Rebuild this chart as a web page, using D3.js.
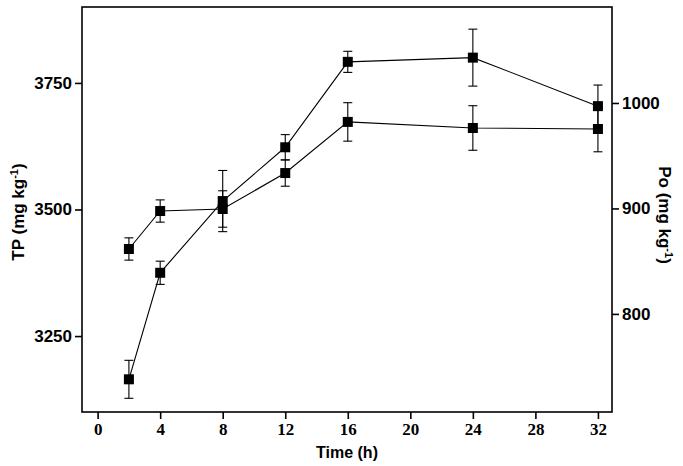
<!DOCTYPE html>
<html><head><meta charset="utf-8">
<script src="https://cdn.jsdelivr.net/npm/d3@7"></script>
<style>body{margin:0;background:#fff}svg{display:block}</style>
</head><body><svg id="c" width="683" height="466"></svg>
<script>
const times = [2, 4, 8, 12, 16, 24, 32];
const tpValues = [3422, 3497, 3501, 3572, 3673, 3661, 3659];
const tpErrors = [22, 22, 36, 26, 38, 44, 45];
const poValues = [738, 839, 907, 958, 1039, 1043, 997];
const poErrors = [18, 11, 29, 12, 10, 27, 20];
const xTicks = [0, 4, 8, 12, 16, 20, 24, 28, 32];
const tpTicks = [3250, 3500, 3750];
const poTicks = [800, 900, 1000];

const svg = d3.select("#c");
const m = {l: 82, r: 71, t: 7, b: 54};
const W = 683, H = 466;
const x = d3.scaleLinear().domain([-1, 32.9]).range([m.l, W - m.r]);
const yL = d3.scaleLinear().domain([3100, 3900]).range([H - m.b, m.t]);
const yR = d3.scaleLinear().domain([707, 1091]).range([H - m.b, m.t]);
const fmt = d3.format("d");

svg.append("rect").attr("x", m.l).attr("y", m.t).attr("width", W - m.l - m.r).attr("height", H - m.t - m.b)
  .attr("fill", "none").attr("stroke", "#000").attr("stroke-width", 1.6);

const gx = svg.append("g").attr("transform", `translate(0,${H - m.b})`)
  .call(d3.axisBottom(x).tickValues(xTicks).tickFormat(fmt).tickSize(7).tickPadding(4));
gx.selectAll("text").attr("font-family", "'Liberation Serif', serif").attr("font-weight", "bold").attr("font-size", 17).attr("fill", "#000");
const gl = svg.append("g").attr("transform", `translate(${m.l},0)`)
  .call(d3.axisLeft(yL).tickValues(tpTicks).tickFormat(fmt).tickSize(7).tickPadding(3));
gl.selectAll("text").attr("font-family", "'Liberation Sans', Arial, sans-serif").attr("font-weight", "bold").attr("font-size", 17).attr("fill", "#000");
const gr = svg.append("g").attr("transform", `translate(${W - m.r},0)`)
  .call(d3.axisRight(yR).tickValues(poTicks).tickFormat(fmt).tickSize(7).tickPadding(3));
gr.selectAll("text").attr("font-family", "'Liberation Sans', Arial, sans-serif").attr("font-weight", "bold").attr("font-size", 17).attr("fill", "#000");
[gx, gl, gr].forEach(g => { g.select(".domain").remove(); g.selectAll("line").attr("stroke", "#000").attr("stroke-width", 1.6); });

function series(vals, errs, y) {
  const data = times.map((t, i) => ({t, v: vals[i], e: errs[i]}));
  svg.append("path").datum(data).attr("fill", "none").attr("stroke", "#000").attr("stroke-width", 1.1)
    .attr("d", d3.line().x(d => x(d.t)).y(d => y(d.v)));
  const g = svg.append("g");
  data.forEach(d => {
    const cx = x(d.t);
    g.append("line").attr("x1", cx).attr("x2", cx).attr("y1", y(d.v - d.e)).attr("y2", y(d.v + d.e)).attr("stroke", "#000").attr("stroke-width", 1.1);
    [d.v - d.e, d.v + d.e].forEach(val => g.append("line").attr("x1", cx - 4.5).attr("x2", cx + 4.5).attr("y1", y(val)).attr("y2", y(val)).attr("stroke", "#000").attr("stroke-width", 1.1));
    g.append("rect").attr("x", cx - 5).attr("y", y(d.v) - 5).attr("width", 10).attr("height", 10).attr("fill", "#000");
  });
}
series(tpValues, tpErrors, yL);
series(poValues, poErrors, yR);

svg.append("text").attr("x", 347).attr("y", 458).attr("text-anchor", "middle")
  .attr("font-family", "'Liberation Sans', Arial, sans-serif").attr("font-weight", "bold").attr("font-size", 16).text("Time (h)");
const tl = svg.append("text").attr("transform", "translate(24,212) rotate(-90)").attr("text-anchor", "middle")
  .attr("font-family", "'Liberation Sans', Arial, sans-serif").attr("font-weight", "bold").attr("font-size", 17);
tl.append("tspan").text("TP (mg kg");
tl.append("tspan").attr("dy", -6).attr("font-size", 11).text("-1");
tl.append("tspan").attr("dy", 6).text(")");
const tr = svg.append("text").attr("transform", "translate(659,215) rotate(90)").attr("text-anchor", "middle")
  .attr("font-family", "'Liberation Sans', Arial, sans-serif").attr("font-weight", "bold").attr("font-size", 17);
tr.append("tspan").text("Po (mg kg");
tr.append("tspan").attr("dy", -6).attr("font-size", 11).text("-1");
tr.append("tspan").attr("dy", 6).text(")");
</script></body></html>
